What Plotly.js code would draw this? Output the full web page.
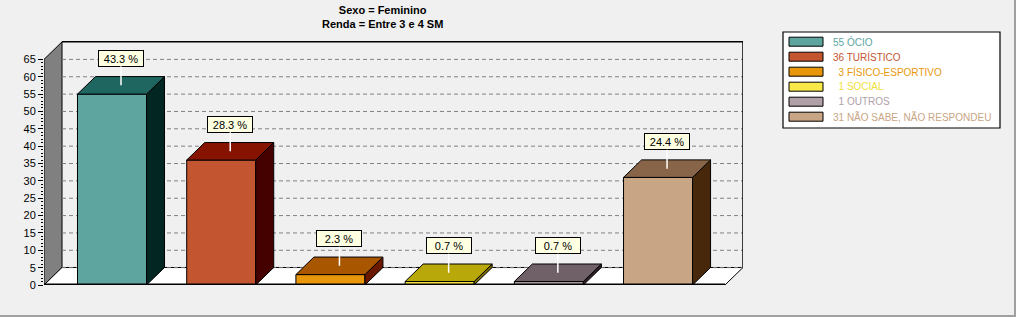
<!DOCTYPE html>
<html>
<head>
<meta charset="utf-8">
<script src="https://cdn.plot.ly/plotly-3.0.1.min.js"></script>
<style>html,body{margin:0;padding:0;background:#F0F0F0;}#chart{width:1016px;height:317px;}</style>
</head>
<body>
<div id="chart"></div>
<script>
// ---- data ----
const categories = ['ÓCIO', 'TURÍSTICO', 'FÍSICO-ESPORTIVO', 'SOCIAL', 'OUTROS', 'NÃO SABE, NÃO RESPONDEU'];
const counts = [55, 36, 3, 1, 1, 31];
const percents = [43.3, 28.3, 2.3, 0.7, 0.7, 24.4];
const yTickVals = [0, 5, 10, 15, 20, 25, 30, 35, 40, 45, 50, 55, 60, 65];
const titleLines = ['Sexo = Feminino', 'Renda = Entre 3 e 4 SM'];

// ---- styles ----
const frontColors = ['#5EA5A0', '#C45531', '#E8960A', '#F8E848', '#B0A0A8', '#C8A585'];
const topColors   = ['#1F6660', '#861300', '#A85600', '#B8A80A', '#706068', '#886548'];
const sideColors  = ['#022622', '#450000', '#6A1800', '#786800', '#302028', '#48280A'];
const legendText  = ['#5BA5A0', '#C4542F', '#E8980A', '#F0E040', '#B0A0A8', '#C8A585'];

const FONT = 'Liberation Sans, Arial, sans-serif';
const W = 1016, H = 317;
const M = {l: 44, r: 273, t: 41, b: 32};
const PW = W - M.l - M.r, PH = H - M.t - M.b;
const xMin = -0.6227, xMax = 5.778;
const yMax = 70.3;
const barW = 0.632;
const dx = 0.165;       // depth (x units)
const dy = 5.05;        // depth (y units)
const wallTop = 65;

const px2x = px => (px - M.l) / PW;            // paper x from pixel
const py2y = py => (H - M.b - py) / PH;          // paper y from pixel

const traces = [];
// side & top faces
counts.forEach((v, i) => {
  const xr = i + barW / 2, xl = i - barW / 2;
  traces.push({
    type: 'scatter', mode: 'lines', fill: 'toself', showlegend: false, hoverinfo: 'skip',
    x: [xr, xr, xr + dx, xr + dx, xr], y: [0, v, v + dy, dy, 0],
    fillcolor: sideColors[i], line: {color: '#000', width: 1}
  });
  traces.push({
    type: 'scatter', mode: 'lines', fill: 'toself', showlegend: false, hoverinfo: 'skip',
    x: [xl, xl + dx, xr + dx, xr, xl], y: [v, v + dy, v + dy, v, v],
    fillcolor: topColors[i], line: {color: '#000', width: 1}
  });
});
// front faces
traces.push({
  type: 'bar', x: categories.map((c, i) => i), y: counts, width: barW,
  marker: {color: frontColors, line: {color: '#000', width: 1}},
  showlegend: false, hoverinfo: 'skip'
});

const shapes = [];
// left wall
shapes.push({type: 'path', layer: 'below', xref: 'x', yref: 'y',
  path: `M${xMin},0 L${xMin},${wallTop} L${xMin + dx},${wallTop + dy} L${xMin + dx},${dy} Z`,
  fillcolor: '#808080', line: {color: '#000', width: 1}});
// floor
shapes.push({type: 'path', layer: 'below', xref: 'x', yref: 'y',
  path: `M${xMin},0 L${xMin + dx},${dy} L${xMax},${dy} L${xMax - dx},0 Z`,
  fillcolor: '#FFFFFF', line: {color: '#000', width: 1}});
// grid lines on back wall
yTickVals.filter(v => v > 0).forEach(v => {
  shapes.push({type: 'line', layer: 'below', xref: 'x', yref: 'y',
    x0: xMin + dx, x1: xMax, y0: v, y1: v,
    line: {color: '#808080', width: 1, dash: '4px,3px'}});
});
// back wall top & right edges
shapes.push({type: 'line', layer: 'below', xref: 'x', yref: 'y',
  x0: xMin + dx, x1: xMax, y0: wallTop + dy, y1: wallTop + dy, line: {color: '#000', width: 1.5}});
shapes.push({type: 'line', layer: 'below', xref: 'x', yref: 'y',
  x0: xMax, x1: xMax, y0: dy, y1: wallTop + dy, line: {color: '#000', width: 1.5}});
// thick front floor edge
shapes.push({type: 'line', layer: 'above', xref: 'x', yref: 'y',
  x0: xMin, x1: xMax - dx, y0: 0, y1: 0, line: {color: '#000', width: 3}});

// legend box
shapes.push({type: 'rect', xref: 'paper', yref: 'paper',
  x0: px2x(783), x1: px2x(1000), y0: py2y(32), y1: py2y(128),
  fillcolor: '#FFFFFF', line: {color: '#000', width: 1.2}});
// outer frame
shapes.push({type: 'line', xref: 'paper', yref: 'paper', x0: px2x(1015), x1: px2x(1015), y0: py2y(0), y1: py2y(317), line: {color: '#A0A0A0', width: 2}});
shapes.push({type: 'line', xref: 'paper', yref: 'paper', x0: px2x(0), x1: px2x(1016), y0: py2y(316), y1: py2y(316), line: {color: '#A0A0A0', width: 2}});

const annotations = [];
// title
annotations.push({xref: 'paper', yref: 'paper', x: px2x(382), y: py2y(2), xanchor: 'center', yanchor: 'top',
  showarrow: false, text: titleLines.map(t => '<b>' + t + '</b>').join('<br>'),
  font: {family: FONT, size: 11, color: '#000'}});
// value labels
percents.forEach((p, i) => {
  annotations.push({
    xref: 'x', yref: 'y', x: i + dx / 2, y: counts[i] + dy / 2,
    text: p.toFixed(1) + ' %', showarrow: true, arrowhead: 0, arrowcolor: '#FFFFFF', arrowwidth: 1.5,
    ax: 0, ay: -27, bgcolor: '#FFFFE1', bordercolor: '#000', borderwidth: 1, borderpad: 1,
    width: 42, height: 13, font: {family: FONT, size: 11, color: '#000'}
  });
});
// legend entries
categories.forEach((c, i) => {
  const cy = 41.7 + 15 * i;
  shapes.push({type: 'rect', xref: 'paper', yref: 'paper',
    x0: px2x(789), x1: px2x(823), y0: py2y(cy + 4.5), y1: py2y(cy - 4.5),
    fillcolor: frontColors[i], line: {color: '#000', width: 1}});
  const num = String(counts[i]).padStart(2, '\u2007');
  annotations.push({xref: 'paper', yref: 'paper', x: px2x(831), y: py2y(cy), xanchor: 'left', yanchor: 'middle',
    text: num + ' ' + c, showarrow: false, font: {family: FONT, size: 10, color: legendText[i]}});
});

const minorVals = [];
for (let v = 1; v < wallTop; v++) if (v % 5) minorVals.push(v);

const layout = {
  width: W, height: H, margin: M,
  paper_bgcolor: '#F0F0F0', plot_bgcolor: '#F0F0F0',
  showlegend: false, barmode: 'overlay',
  xaxis: {range: [xMin, xMax], visible: false, fixedrange: true},
  yaxis: {range: [0, yMax], tickmode: 'array', tickvals: yTickVals, ticktext: yTickVals.map(String),
    showgrid: false, zeroline: false, showline: false, ticks: 'outside', ticklen: 5, tickcolor: '#000',
    tickfont: {family: FONT, size: 11, color: '#000'},
    minor: {tickmode: 'array', tickvals: minorVals, ticks: 'outside', ticklen: 2, tickcolor: '#000', showgrid: false},
    fixedrange: true},
  shapes: shapes, annotations: annotations
};

Plotly.newPlot('chart', traces, layout, {staticPlot: true, displayModeBar: false});
</script>
</body>
</html>
